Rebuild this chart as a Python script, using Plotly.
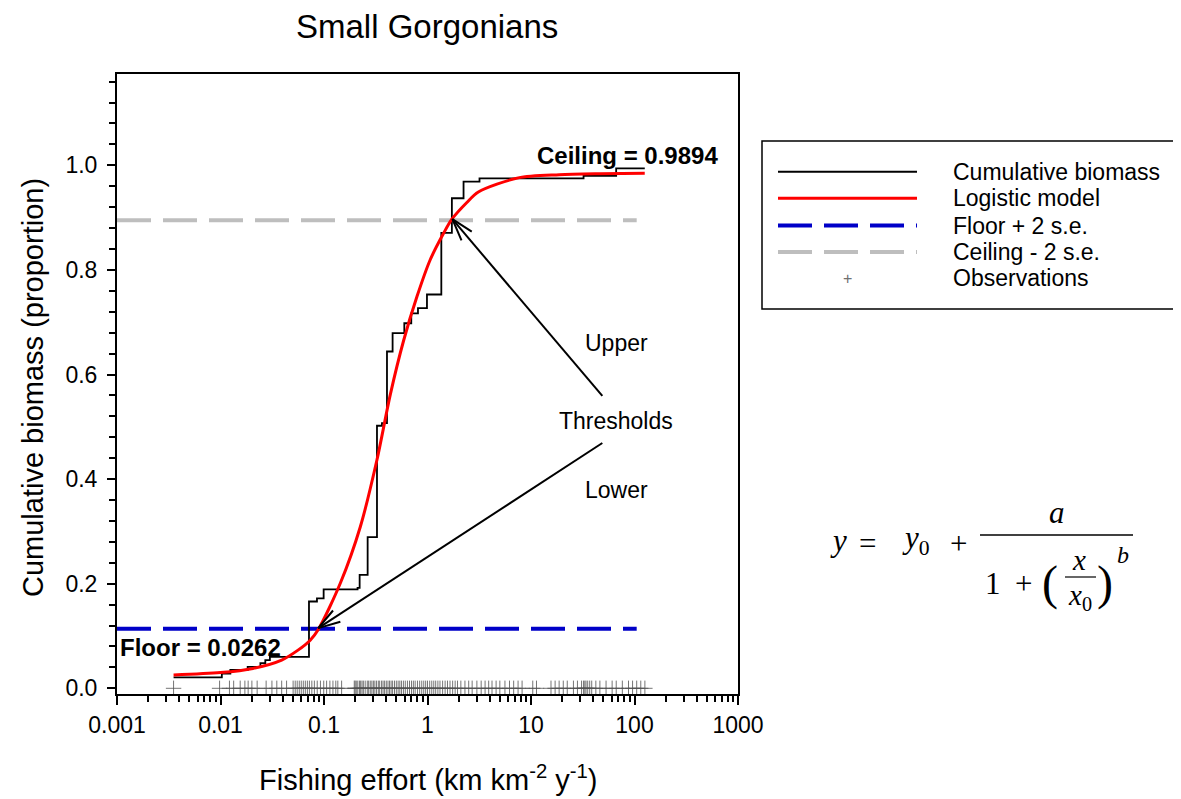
import numpy as np
import plotly.graph_objects as go

# ---------------- data ----------------
# cumulative biomass step curve: level y starts at effort x (step "hv")
cum_x = [0.00352, 0.0103, 0.01245, 0.0183, 0.0243, 0.0271, 0.030, 0.0716, 0.0855, 0.0992,
         0.211, 0.221, 0.264, 0.325, 0.363, 0.406, 0.460, 0.597, 0.697, 0.809, 0.988,
         1.36, 1.72, 2.23, 3.18, 32.2, 66.5, 125.7]
cum_y = [0.021, 0.028, 0.035, 0.041, 0.048, 0.054, 0.060, 0.166, 0.172, 0.189,
         0.192, 0.217, 0.289, 0.502, 0.507, 0.644, 0.679, 0.698, 0.717, 0.727, 0.753,
         0.871, 0.937, 0.969, 0.975, 0.980, 0.994, 0.994]

# logistic model curve
model_x = [0.00352, 0.01, 0.0206, 0.039, 0.0561, 0.0736, 0.0887, 0.1437, 0.2244, 0.325,
           0.4376, 0.588, 0.791, 1.06, 1.43, 1.72, 2.40, 3.10, 7.53, 18.7, 46.4, 125.6]
model_y = [0.0254, 0.030, 0.038, 0.054, 0.073, 0.092, 0.1135, 0.2008, 0.309, 0.437,
           0.562, 0.665, 0.749, 0.819, 0.870, 0.897, 0.929, 0.949, 0.976, 0.982, 0.984, 0.985]

# observations (fishing effort values, plotted at y = 0)
obs_x = [0.00352, 0.0098, 0.0122, 0.0134, 0.0155, 0.0172, 0.0185, 0.0201, 0.0226, 0.0276,
         0.0314, 0.035, 0.039, 0.0435, 0.0503, 0.0527, 0.0551, 0.0577, 0.0603, 0.0631,
         0.066, 0.0691, 0.0723, 0.0763, 0.0807, 0.086, 0.0924, 0.0994, 0.106, 0.114,
         0.122, 0.130, 0.136, 0.148, 0.196, 0.200, 0.205, 0.212, 0.220, 0.226, 0.233,
         0.240, 0.250, 0.262, 0.270, 0.280, 0.290, 0.300, 0.310, 0.322, 0.335, 0.345,
         0.360, 0.372, 0.385, 0.400, 0.415, 0.430, 0.445, 0.460, 0.480, 0.500, 0.520,
         0.540, 0.560, 0.585, 0.610, 0.640, 0.670, 0.700, 0.730, 0.760, 0.800, 0.840,
         0.880, 0.920, 0.960, 1.00, 1.05, 1.10, 1.15, 1.20, 1.26, 1.32, 1.40, 1.48,
         1.56, 1.65, 1.75, 1.85, 1.95, 2.1, 2.3, 2.5, 2.7, 3.0, 3.3, 3.6, 3.9, 4.2,
         4.6, 5.0, 5.6, 6.2, 6.8, 7.5, 8.2, 10.4, 11.3, 15.6, 17.1, 18.7, 20.5, 22.4,
         25.7, 28.1, 30.8, 32.2, 33.1, 34.0, 35.3, 36.9, 38.6, 42.3, 46.3, 53.1, 60.8,
         66.6, 76.3, 87.5, 95.8, 105.0, 115.0, 126.0]

floor_val = 0.0262
ceiling_val = 0.9894
floor_se_line = 0.114      # Floor + 2 s.e.
ceiling_se_line = 0.895    # Ceiling - 2 s.e.
ref_line_x = [0.001, 105.0]

# threshold arrows: (tail x, tail y) -> (head x, head y)
upper_arrow = dict(tail=(48.9, 0.559), head=(1.74, 0.897))
lower_arrow = dict(tail=(48.9, 0.469), head=(0.088, 0.115))

x_tick_range = [-3, 3]
y_range = [-0.0109, 1.1746]

# ---------------- layout geometry ----------------
# page coordinates of the reference (the page body adds an 8 px margin)
W, H = 1181, 799
OFF = 8
REF_L, REF_T, REF_R, REF_B = 117, 74, 738, 694
PW, PH = REF_R - REF_L, REF_B - REF_T
FW, FH = W - OFF, H - OFF
ML, MT = REF_L - OFF, REF_T - OFF
MR, MB = FW - ML - PW, FH - MT - PH
FONT = "Liberation Sans, Arial, sans-serif"
SERIF = "Liberation Serif, Times New Roman, serif"


def PX(px):
    return (px - REF_L) / PW


def PY(py):
    return (REF_B - py) / PH


def data_to_px(x, y):
    lx = np.log10(x)
    px = REF_L + (lx - x_tick_range[0]) / (x_tick_range[1] - x_tick_range[0]) * PW
    py = REF_T + (y_range[1] - y) / (y_range[1] - y_range[0]) * PH
    return px, py


def px_to_data(px, py):
    lx = x_tick_range[0] + (px - REF_L) / PW * (x_tick_range[1] - x_tick_range[0])
    y = y_range[1] - (py - REF_T) / PH * (y_range[1] - y_range[0])
    return 10 ** lx, y


fig = go.Figure()

# reference lines
fig.add_trace(go.Scatter(x=ref_line_x, y=[floor_se_line] * 2, mode="lines",
                         line=dict(color="#0000C8", width=4, dash="34px,12px"),
                         hoverinfo="skip", showlegend=False))
fig.add_trace(go.Scatter(x=ref_line_x, y=[ceiling_se_line] * 2, mode="lines",
                         line=dict(color="#BEBEBE", width=4, dash="34px,12px"),
                         hoverinfo="skip", showlegend=False))

# observations
fig.add_trace(go.Scatter(x=obs_x, y=[0.0] * len(obs_x), mode="markers",
                         marker=dict(symbol="cross-thin", size=11, color="#505050",
                                     line=dict(width=0.8, color="#505050")),
                         showlegend=False))

# cumulative biomass
fig.add_trace(go.Scatter(x=cum_x, y=cum_y, mode="lines", line_shape="hv",
                         line=dict(color="black", width=1.8), showlegend=False))

# logistic model
fig.add_trace(go.Scatter(x=model_x, y=model_y, mode="lines", line_shape="spline",
                         line=dict(color="#FF0000", width=3, smoothing=0.8), showlegend=False))

# threshold arrows with open chevron heads
for arr in (upper_arrow, lower_arrow):
    (tx, ty), (hx, hy) = arr["tail"], arr["head"]
    hpx, hpy = data_to_px(hx, hy)
    tpx, tpy = data_to_px(tx, ty)
    ang = np.arctan2(tpy - hpy, tpx - hpx)
    arms = [px_to_data(hpx + 23 * np.cos(ang + np.deg2rad(d)),
                       hpy + 23 * np.sin(ang + np.deg2rad(d))) for d in (-17, 17)]
    xs = [tx, hx, None, arms[0][0], hx, arms[1][0]]
    ys = [ty, hy, None, arms[0][1], hy, arms[1][1]]
    fig.add_trace(go.Scatter(x=xs, y=ys, mode="lines", line=dict(color="black", width=2),
                             hoverinfo="skip", showlegend=False))

annotations = []
shapes = []


def txt(px, py, text, size, bold=False, family=FONT, color="black", xanchor="center", angle=0):
    annotations.append(dict(x=PX(px), y=PY(py), xref="paper", yref="paper",
                            text=f"<b>{text}</b>" if bold else text, showarrow=False,
                            font=dict(family=family, size=size, color=color),
                            xanchor=xanchor, yanchor="middle", textangle=angle))


txt(427, 27, "Small Gorgonians", 33)
txt(428, 778, "Fishing effort (km km<sup>-2</sup> y<sup>-1</sup>)", 29)
txt(33, 388, "Cumulative biomass (proportion)", 29, angle=-90)
txt(627, 156, f"Ceiling = {ceiling_val:.4f}", 24, bold=True)
txt(200, 647, f"Floor = {floor_val:.4f}", 24, bold=True)
txt(616, 343, "Upper", 23)
txt(616, 421, "Thresholds", 23)
txt(616, 490, "Lower", 23)

# manual legend
shapes.append(dict(type="rect", xref="paper", yref="paper", x0=PX(762), x1=PX(1179),
                   y0=PY(309), y1=PY(141), line=dict(color="black", width=1.5)))
leg_rows = [
    ("Cumulative biomass", dict(color="black", width=2)),
    ("Logistic model", dict(color="#FF0000", width=3)),
    ("Floor + 2 s.e.", dict(color="#0000C8", width=4, dash="34px,12px")),
    ("Ceiling - 2 s.e.", dict(color="#BEBEBE", width=4, dash="34px,12px")),
    ("Observations", None),
]
row_y = [171.7, 198.3, 225.5, 252, 278.3]
for (label, ln), ry in zip(leg_rows, row_y):
    if ln is not None:
        shapes.append(dict(type="line", xref="paper", yref="paper", x0=PX(778), x1=PX(917),
                           y0=PY(ry), y1=PY(ry), line=ln))
    else:
        txt(848, ry, "+", 16, color="#707070")
    txt(951, ry, label, 23, xanchor="left")

# equation  y = y0 + a / (1 + (x/x0)^b)
txt(838, 540, "<i>y</i>", 31, family=SERIF)
txt(867, 543, "=", 31, family=SERIF)
txt(916, 540, "<i>y</i><sub>0</sub>", 31, family=SERIF)
txt(958, 543, "+", 31, family=SERIF)
shapes.append(dict(type="line", xref="paper", yref="paper", x0=PX(980), x1=PX(1133),
                   y0=PY(535), y1=PY(535), line=dict(color="black", width=1.5)))
txt(1057, 512, "<i>a</i>", 31, family=SERIF)
txt(993, 583, "1", 31, family=SERIF)
txt(1023, 583, "+", 31, family=SERIF)
txt(1050, 583, "(", 48, family=SERIF)
txt(1079, 560, "<i>x</i>", 29, family=SERIF)
shapes.append(dict(type="line", xref="paper", yref="paper", x0=PX(1065), x1=PX(1096),
                   y0=PY(577), y1=PY(577), line=dict(color="black", width=1.2)))
txt(1080, 597, "<i>x</i><sub>0</sub>", 29, family=SERIF)
txt(1105, 583, ")", 48, family=SERIF)
txt(1123, 555, "<i>b</i>", 24, family=SERIF)

fig.update_layout(
    width=FW, height=FH,
    margin=dict(l=ML, r=MR, t=MT, b=MB, pad=0),
    paper_bgcolor="white", plot_bgcolor="white",
    showlegend=False,
    font=dict(family=FONT, size=23, color="black"),
    annotations=annotations, shapes=shapes,
    xaxis=dict(type="log", range=x_tick_range, tickmode="linear", tick0=0, dtick=1,
               exponentformat="none", showgrid=False, zeroline=False,
               showline=True, linecolor="black", linewidth=2, mirror=True,
               ticks="outside", ticklen=9, tickwidth=1.5, tickcolor="black",
               tickfont=dict(family=FONT, size=23),
               minor=dict(ticks="outside", ticklen=6, tickwidth=1.5, tickcolor="black",
                          dtick="D1", showgrid=False)),
    yaxis=dict(range=y_range, tickmode="linear", tick0=0, dtick=0.2, tickformat=".1f",
               showgrid=False, zeroline=False,
               showline=True, linecolor="black", linewidth=2, mirror=True,
               ticks="outside", ticklen=8, tickwidth=1.5, tickcolor="black",
               ticklabelstandoff=5,
               tickfont=dict(family=FONT, size=23),
               minor=dict(ticks="outside", ticklen=6, tickwidth=1.5, tickcolor="black",
                          dtick=0.04, showgrid=False)),
)

fig.write_html("out.html")
